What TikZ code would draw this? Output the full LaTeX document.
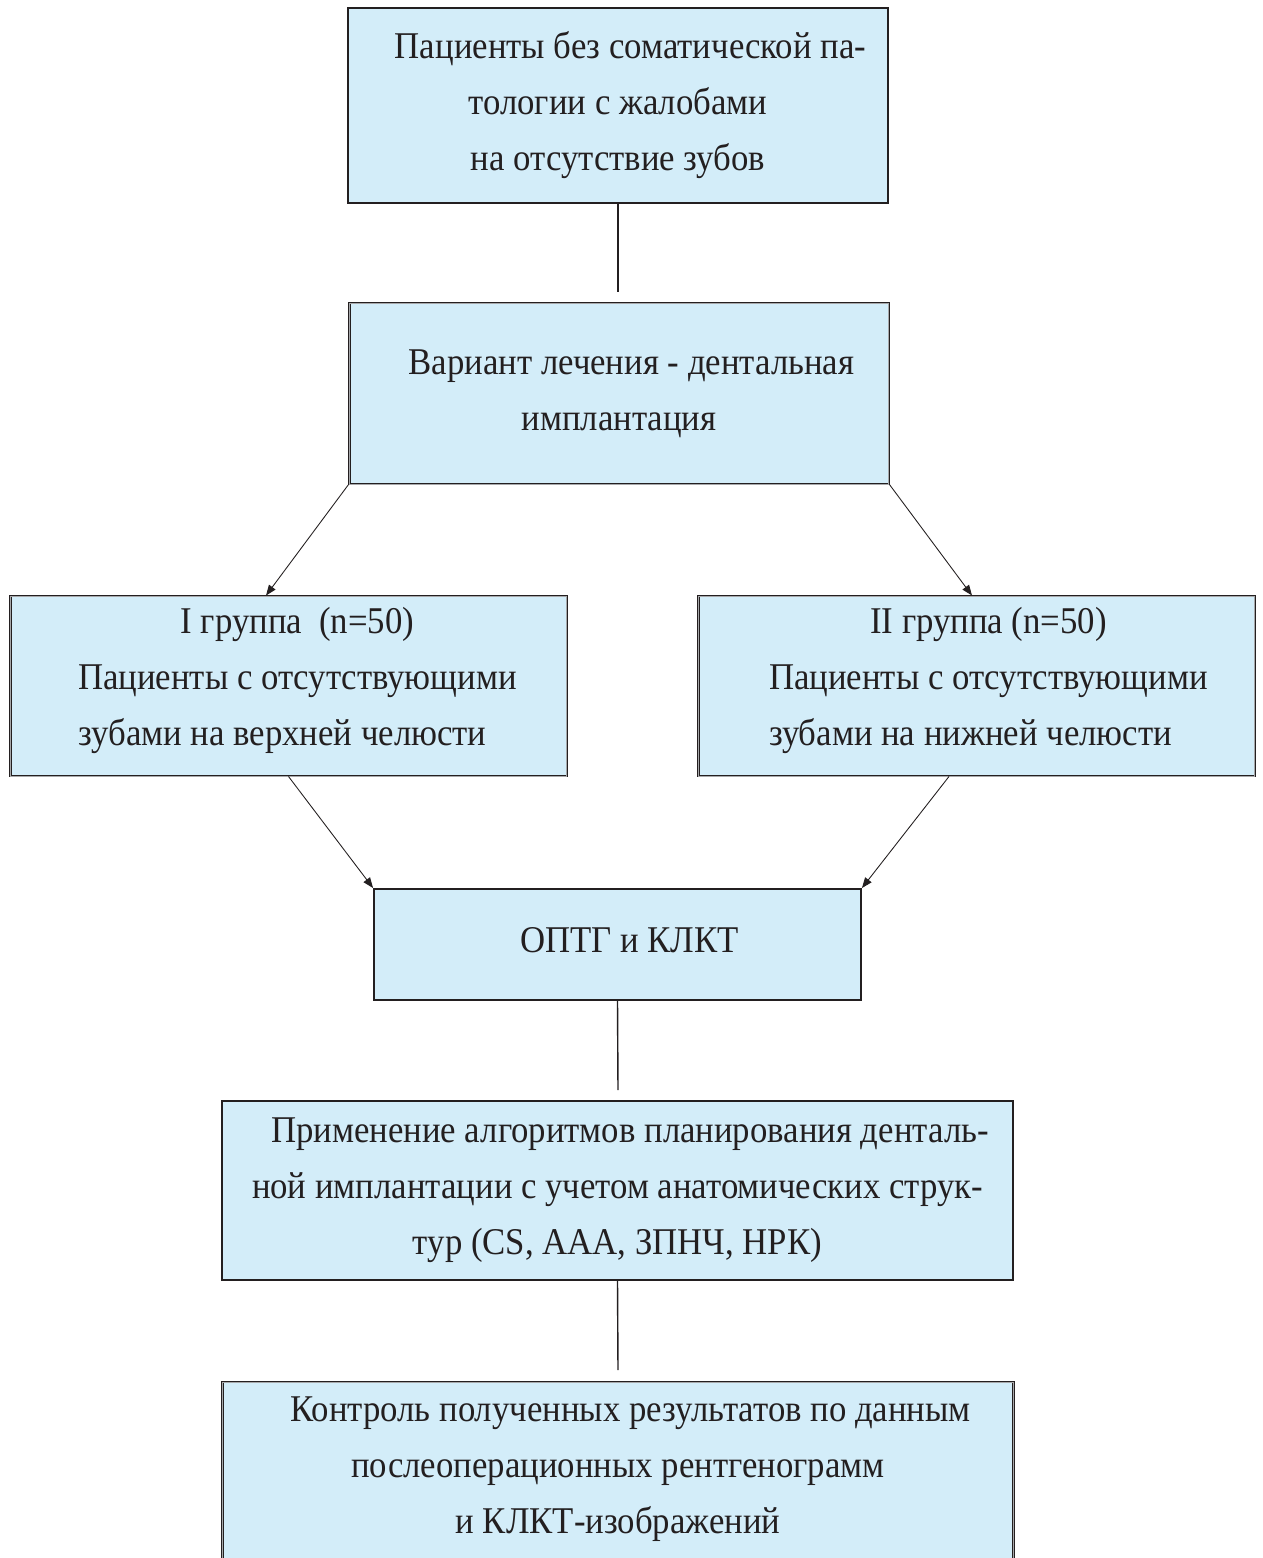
\documentclass[tikz,border=0pt]{standalone}
\usepackage{fontspec}
\setmainfont{Liberation Serif}[FakeStretch=0.92]
\usepackage{tikz}
\usetikzlibrary{arrows.meta}
\definecolor{SchemeFill}{HTML}{D3EDF9}
\definecolor{SchemeInk}{HTML}{231F20}
\definecolor{SchemeGrey}{HTML}{6D6E71}
% extra depth under the last line, lifts the text inside its box
\newcommand{\liftby}[1]{\rule[-#1]{0pt}{0pt}}

\begin{document}
\begin{tikzpicture}[x=0.02cm,y=-0.02cm,
  box/.style={rectangle,fill=SchemeFill,inner sep=0pt,align=center,text=SchemeInk,
    font={\fontsize{21.5}{31.9}\selectfont}},
  solidbox/.style={box,draw=SchemeInk,line width=1.1pt},
  dblbox/.style={box,draw=SchemeInk,line width=0.55pt,double=SchemeGrey!60,double distance=0.55pt},
  link/.style={draw=SchemeInk,line width=0.8pt},
  flow/.style={draw=SchemeInk,line width=0.5pt,-{Triangle[length=0.21cm,width=0.16cm]}}]
\useasboundingbox (0,0) rectangle (1262,1558);
\node[solidbox,minimum width=10.8cm,minimum height=3.9cm] (pat) at (618,105.5)
  {\hspace*{0.5cm}Пациенты без соматической па-\\тологии с жалобами\\на отсутствие зубов};
\node[dblbox,minimum width=10.8cm,minimum height=3.62cm] (impl) at (619,393.5)
  {\hspace*{0.5cm}Вариант лечения - дентальная\\имплантация\liftby{0.15cm}};
\node[dblbox,minimum width=11.14cm,minimum height=3.6cm] (grpA) at (288.5,686)
  {\hspace*{0.36cm}I группа~~(n=50)\\\hspace*{0.36cm}Пациенты с отсутствующими\\
   \hspace*{0.36cm}зубами на верхней челюсти\hspace*{0.6cm}\liftby{0.37cm}};
\node[dblbox,minimum width=11.14cm,minimum height=3.6cm] (grpB) at (976.5,686)
  {\hspace*{0.48cm}II группа (n=50)\\\hspace*{0.48cm}Пациенты с отсутствующими\\
   \hspace*{0.48cm}зубами на нижней челюсти\hspace*{0.72cm}\liftby{0.37cm}};
\node[solidbox,minimum width=9.74cm,minimum height=2.22cm] (opt) at (617.5,944.5)
  {\hspace*{0.48cm}ОПТГ и КЛКТ\liftby{0.2cm}};
\node[solidbox,minimum width=15.82cm,minimum height=3.58cm] (algo) at (617.5,1190.5)
  {\hspace*{0.5cm}Применение алгоритмов планирования денталь-\\ной имплантации с учетом анатомических струк-\\тур (CS, ААА, ЗПНЧ, НРК)};
\node[dblbox,minimum width=15.84cm,minimum height=3.9cm] (ctrl) at (618,1479.5)
  {\hspace*{0.5cm}Контроль полученных результатов по данным\\послеоперационных рентгенограмм\\и КЛКТ-изображений\liftby{0.57cm}};
% free ends of the plain lines
\coordinate (gap1) at (618,292);
\coordinate (gap2) at (618,1090);
\coordinate (gap3) at (618,1370);
\draw[link] (pat.south) -- (gap1);
\draw[link] (opt.south) -- (gap2);
\draw[link] (algo.south) -- (gap3);
\draw[flow] (impl.south west) -- ([xshift=-0.45cm]grpA.north);
\draw[flow] (impl.south east) -- ([xshift=-0.09cm]grpB.north);
\draw[flow] (grpA.south) -- (opt.north west);
\draw[flow] ([xshift=-0.55cm]grpB.south) -- (opt.north east);
\end{tikzpicture}
\end{document}
